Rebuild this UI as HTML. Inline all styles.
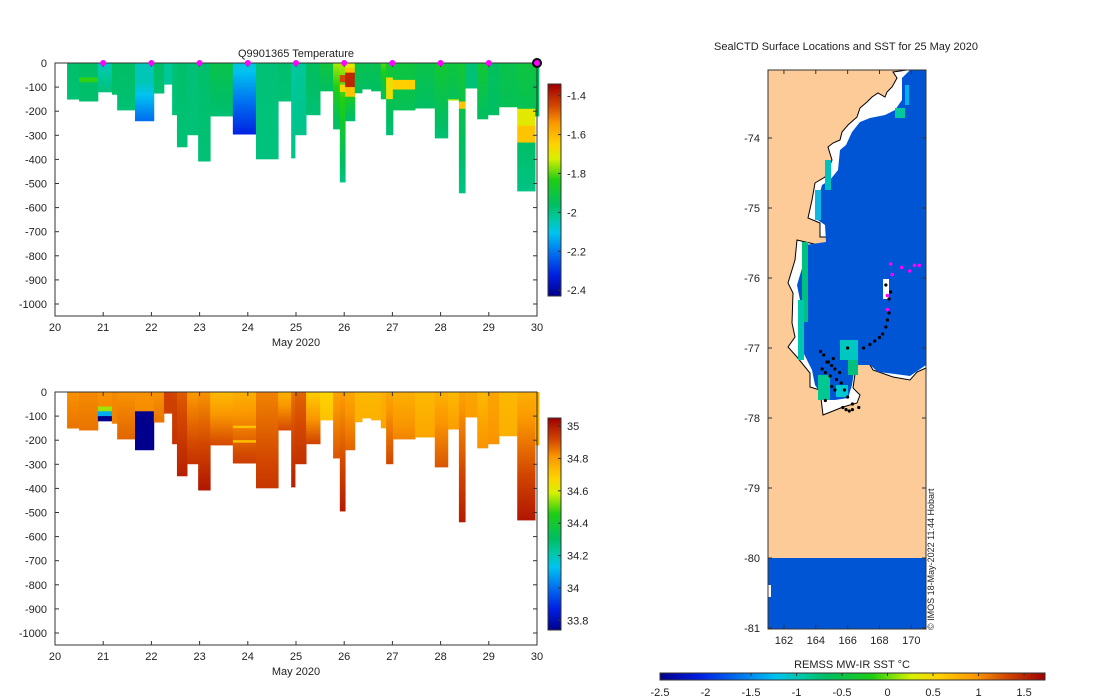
<!DOCTYPE html>
<html><head><meta charset="utf-8">
<style>
body{margin:0;background:#fff;}
svg{display:block;font-family:"Liberation Sans",sans-serif;}
text{fill:#222;font-size:11px;}
</style></head>
<body>
<svg id="fig" width="1100" height="700" viewBox="0 0 1100 700" xmlns="http://www.w3.org/2000/svg">
<g id="top"></g>
<g id="bot"></g>
<g id="map"></g>
</svg>
<script>
// ---- profile data ----
const colStart = [20.25,20.50,20.89,21.18,21.29,21.66,22.05,22.26,22.43,22.53,22.74,22.97,23.22,23.69,24.17,24.63,24.90,24.98,25.21,25.50,25.77,25.91,26.02,26.22,26.37,26.56,26.76,26.87,27.01,27.47,27.88,28.15,28.38,28.51,28.76,28.98,29.21,29.59,29.96];
const colEnd = 30.04;
const colDepth = [150,158,120,130,195,240,125,88,215,348,298,407,220,295,398,158,394,298,215,116,274,494,240,124,108,116,149,298,195,187,311,154,539,104,232,215,182,531,220];
const tempTop = [-1.97,-1.96,-2.05,-1.96,-1.96,-1.97,-1.96,-2.02,-1.98,-1.97,-1.98,-1.97,-1.92,-2.08,-1.98,-1.97,-2.03,-2.02,-1.95,-1.90,-1.75,-1.75,-1.70,-1.92,-1.93,-1.93,-1.80,-1.88,-1.90,-1.92,-1.88,-1.90,-1.88,-1.98,-1.88,-1.95,-1.92,-1.90,-1.95];
const tempBot = [-1.98,-1.97,-1.98,-1.97,-1.98,-2.22,-1.98,-2.02,-1.98,-1.98,-1.98,-1.98,-1.98,-2.32,-1.99,-1.98,-2.00,-2.00,-1.98,-1.96,-1.98,-2.00,-1.98,-1.96,-1.96,-1.96,-1.96,-1.98,-1.94,-1.96,-1.98,-1.94,-2.00,-1.98,-1.96,-1.96,-1.94,-2.00,-1.95];
const tempLayerCol = [1,5,21,21,22,22,27,28,31,32,37,37];
const tempLayerTop = [60,0,50,90,20,40,60,70,150,160,190,260];
const tempLayerBot = [80,70,80,120,140,100,150,110,170,190,260,330];
const tempLayerVal = [-1.82,-2.05,-1.45,-1.65,-1.62,-1.40,-1.68,-1.64,-1.75,-1.62,-1.70,-1.62];
const salTop = [34.82,34.83,34.82,34.83,34.82,34.82,34.82,34.93,34.92,34.89,34.81,34.82,34.74,34.76,34.84,34.76,34.86,34.88,34.70,34.68,34.79,34.80,34.78,34.74,34.74,34.74,34.76,34.78,34.76,34.74,34.76,34.74,34.79,34.78,34.74,34.78,34.74,34.76,34.76];
const salBot = [34.86,34.86,34.84,34.84,34.88,34.84,34.86,34.93,34.96,34.99,34.96,35.01,34.92,34.94,34.95,34.92,34.99,34.96,34.93,34.72,34.90,35.00,34.88,34.76,34.76,34.76,34.78,34.92,34.84,34.78,34.90,34.80,35.00,34.80,34.82,34.82,34.76,35.01,34.78];
const salLayerCol = [2,2,2,5,13,13];
const salLayerTop = [60,80,95,80,140,200];
const salLayerBot = [80,95,120,245,150,210];
const salLayerVal = [34.55,34.10,33.72,33.72,34.72,34.72];
const dayTicks = [20,21,22,23,24,25,26,27,28,29,30];
const depthTicks = [0,-100,-200,-300,-400,-500,-600,-700,-800,-900,-1000];
const tempCbTicks = [-1.4,-1.6,-1.8,-2,-2.2,-2.4];
const salCbTicks = [35,34.8,34.6,34.4,34.2,34,33.8];
const markerDays = [21,22,23,24,25,26,27,28,29];
// ---- map data ----
const latTicks = [-74,-75,-76,-77,-78,-79,-80,-81];
const lonTicks = [162,164,166,168,170];
const sstTicks = [-2.5,-2,-1.5,-1,-0.5,0,0.5,1,1.5];
const trackLon = [164.3,164.5,164.8,165.0,165.2,164.6,164.9,165.3,165.6,165.0,164.4,164.7,165.1,165.5,165.8,166.0,166.3,166.7,167.0,167.4,167.7,168.0,168.2,168.4,168.5,168.6,168.6,168.7,168.4,165.7,165.9,166.1,166.3,164.6,165.2,166.0];
const trackLat = [-77.05,-77.1,-77.2,-77.25,-77.3,-77.35,-77.4,-77.45,-77.5,-77.55,-77.3,-77.2,-77.15,-77.35,-77.6,-77.7,-77.8,-77.85,-77.0,-76.95,-76.9,-76.85,-76.8,-76.7,-76.6,-76.5,-76.3,-76.2,-76.1,-77.85,-77.88,-77.9,-77.88,-77.75,-77.6,-77.0];
const sealLon = [168.7,169.4,169.9,170.2,170.5,168.8,168.5,168.5];
const sealLat = [-75.8,-75.85,-75.9,-75.82,-75.82,-75.95,-76.25,-76.45];

const NS="http://www.w3.org/2000/svg";
function el(tag,attrs,parent){const e=document.createElementNS(NS,tag);for(const k in attrs)e.setAttribute(k,attrs[k]);parent.appendChild(e);return e;}
const stops=[[0,[0,0,140]],[0.1,[0,30,225]],[0.2,[0,110,240]],[0.3,[0,195,240]],[0.37,[0,200,160]],[0.43,[0,190,100]],[0.55,[30,205,20]],[0.65,[215,240,0]],[0.72,[255,210,0]],[0.82,[250,150,0]],[0.9,[210,70,0]],[1,[160,0,0]]];
function cmap(t){t=Math.max(0,Math.min(1,t));for(let i=1;i<stops.length;i++){if(t<=stops[i][0]){const a=stops[i-1],b=stops[i];const f=(t-a[0])/(b[0]-a[0]);const c=a[1].map((v,j)=>Math.round(v+(b[1][j]-v)*f));return `rgb(${c[0]},${c[1]},${c[2]})`;}}return 'rgb(160,0,0)';}

function panel(g,y0,name,top,bot,lc,lt,lb,lv,vmin,vmax,cbTicks,cbTop,cbBot){
  const x0=55,x1=537,yb=y0+253;
  const X=d=>x0+(d-20)*(x1-x0)/10;
  const Y=z=>y0+(-z)*0.241;
  const T=v=>(v-vmin)/(vmax-vmin);
  for(let i=0;i<colStart.length;i++){
    const xa=X(colStart[i]),xe=X(i+1<colStart.length?colStart[i+1]:colEnd);
    for(let z=0;z<colDepth[i];z+=10){
      const z2=Math.min(z+10,colDepth[i]);
      let v=top[i]+(bot[i]-top[i])*(z/colDepth[i]);
      for(let k=0;k<lc.length;k++) if(lc[k]===i&&z>=lt[k]&&z<lb[k]) v=lv[k];
      const r=el('rect',{x:xa,y:Y(-z),width:xe-xa+0.4,height:(z2-z)*0.241+0.4,fill:cmap(T(v))},g);
      
      
    }
  }
  const ax=el('rect',{x:x0,y:y0,width:x1-x0,height:yb-y0,fill:'none',stroke:'#333','stroke-width':1},g);
  
  depthTicks.forEach(d=>{const y=Y(d);
    el('line',{x1:x0,x2:x0+4,y1:y,y2:y,stroke:'#333'},g);el('line',{x1:x1-4,x2:x1,y1:y,y2:y,stroke:'#333'},g);
    const t=el('text',{x:x0-8,y:y+4,'text-anchor':'end'},g);t.textContent=d;
    });
  dayTicks.forEach(d=>{const x=X(d);
    el('line',{x1:x,x2:x,y1:yb,y2:yb-4,stroke:'#333'},g);el('line',{x1:x,x2:x,y1:y0,y2:y0+4,stroke:'#333'},g);
    const t=el('text',{x:x,y:yb+15,'text-anchor':'middle'},g);t.textContent=d;
    });
  const xl=el('text',{x:296,y:yb+30,'text-anchor':'middle'},g);xl.textContent='May 2020';
  
  const cx=548,cw=13;
  for(let p=cbTop;p<cbBot;p++){el('rect',{x:cx,y:p,width:cw,height:1.2,fill:cmap(1-(p-cbTop)/(cbBot-cbTop))},g);}
  const cb=el('rect',{x:cx,y:cbTop,width:cw,height:cbBot-cbTop,fill:'none',stroke:'#333'},g);
  
  cbTicks.forEach(v=>{const y=cbBot-(v-vmin)/(vmax-vmin)*(cbBot-cbTop);
    el('line',{x1:cx+cw-3,x2:cx+cw,y1:y,y2:y,stroke:'#333'},g);
    const t=el('text',{x:cx+cw+6,y:y+4},g);t.textContent=v;
    });
  return {X,Y};
}
const topG=document.getElementById('top'),botG=document.getElementById('bot');
const pt=panel(topG,63,'temperature',tempTop,tempBot,tempLayerCol,tempLayerTop,tempLayerBot,tempLayerVal,-2.43,-1.34,tempCbTicks,84,296);
panel(botG,392,'salinity',salTop,salBot,salLayerCol,salLayerTop,salLayerBot,salLayerVal,33.74,35.05,salCbTicks,418,630);
const tt=el('text',{x:296,y:57,'text-anchor':'middle'},topG);tt.textContent='Q9901365  Temperature';

markerDays.forEach(d=>{const c=el('circle',{cx:pt.X(d),cy:63,r:3,fill:'#f0f'},topG);
  });
const last=el('circle',{cx:pt.X(30),cy:63,r:4,fill:'#f0f',stroke:'#000','stroke-width':2},topG);


// ---- map ----
const mg=document.getElementById('map');
const mx0=768,mx1=926,my0=70,my1=629;
const LX=lon=>mx0+(lon-161)*(mx1-mx0)/9.92;
const LY=lat=>138+(-74-lat)*70;
el('rect',{x:mx0,y:my0,width:mx1-mx0,height:my1-my0,fill:'#fdcb98'},mg);
const s80=el('rect',{x:mx0,y:LY(-80),width:mx1-mx0,height:my1-LY(-80),fill:'#0055d5'},mg);

el('rect',{x:768,y:585,width:3,height:12,fill:'#fff'},mg);
const coast="926,70 907,70 893,72 897,78 892,87 887,92 885,97 878,93 872,97 867,102 860,108 857,117 848,125 842,132 840,140 833,143 828,147 832,160 825,177 815,183 812,200 808,218 820,223 820,237 828,237 827,247 797,240 795,260 788,283 793,293 792,323 795,337 788,347 797,357 810,373 810,387 820,390 823,415 843,407 857,403 860,395 853,388 857,360 867,360 873,370 893,377 910,380 917,372 926,368";
const cw_=el('polygon',{points:coast,fill:'#fff',stroke:'#000','stroke-width':1},mg);

const inner="926,70 910,70 902,78 902,100 895,110 885,115 870,118 860,122 852,132 846,145 840,150 838,170 830,180 822,185 818,200 815,218 825,225 826,242 805,245 803,265 797,285 800,300 798,330 802,350 812,370 815,385 825,400 835,400 848,398 852,385 855,365 870,365 878,372 895,374 910,376 926,365";
const oc=el('polygon',{points:inner,fill:'#0055d5'},mg);

[[802,242,6,80,'#00c080'],[798,300,6,60,'#00c8b0'],[825,160,6,30,'#00c0c0'],[815,190,6,30,'#10b8e0'],[840,340,18,20,'#00c8c0'],[848,360,10,15,'#00c080'],[818,375,12,25,'#00c890'],[895,108,10,10,'#00c8a0'],[905,85,4,20,'#00b0f0'],[836,385,12,12,'#00c8d0']].forEach(a=>{
  const r=el('rect',{x:a[0],y:a[1],width:a[2],height:a[3],fill:a[4]},mg);
  });
el('rect',{x:883,y:279,width:6,height:20,fill:'#fff'},mg);
trackLon.forEach((lon,i)=>{const c=el('circle',{cx:LX(lon),cy:LY(trackLat[i]),r:1.6,fill:'#000'},mg);
  });
sealLon.forEach((lon,i)=>{const c=el('circle',{cx:LX(lon),cy:LY(sealLat[i]),r:1.8,fill:'#f0f'},mg);
  });
const mb=el('rect',{x:mx0,y:my0,width:mx1-mx0,height:my1-my0,fill:'none',stroke:'#333'},mg);

latTicks.forEach(l=>{const y=LY(l);el('line',{x1:mx0,x2:mx0+4,y1:y,y2:y,stroke:'#333'},mg);el('line',{x1:mx1-4,x2:mx1,y1:y,y2:y,stroke:'#333'},mg);
  const t=el('text',{x:mx0-8,y:y+4,'text-anchor':'end'},mg);t.textContent=l;
  });
lonTicks.forEach(l=>{const x=LX(l);el('line',{x1:x,x2:x,y1:my1,y2:my1-4,stroke:'#333'},mg);el('line',{x1:x,x2:x,y1:my0,y2:my0+4,stroke:'#333'},mg);
  const t=el('text',{x:x,y:my1+15,'text-anchor':'middle'},mg);t.textContent=l;
  });
const mt=el('text',{x:846,y:50,'text-anchor':'middle'},mg);mt.textContent='SealCTD Surface Locations and SST for 25 May 2020';

const cr=el('text',{x:0,y:0,transform:'translate(934,630) rotate(-90)',style:'font-size:9px'},mg);cr.textContent='© IMOS 18-May-2022 11:44 Hobart';

const bx0=660,bx1=1045,smin=-2.5,smax=1.73;
for(let p=bx0;p<bx1;p++)el('rect',{x:p,y:673,width:1.2,height:7,fill:cmap((p-bx0)/(bx1-bx0))},mg);
const sb=el('rect',{x:bx0,y:673,width:bx1-bx0,height:7,fill:'none',stroke:'#333'},mg);

sstTicks.forEach(v=>{const x=bx0+(v-smin)/(smax-smin)*(bx1-bx0);
  el('line',{x1:x,x2:x,y1:673,y2:676,stroke:'#333'},mg);
  const t=el('text',{x:x,y:696,'text-anchor':'middle'},mg);t.textContent=v;
  });
const sl=el('text',{x:852,y:668,'text-anchor':'middle'},mg);sl.textContent='REMSS MW-IR SST °C';

</script>
</body></html>
